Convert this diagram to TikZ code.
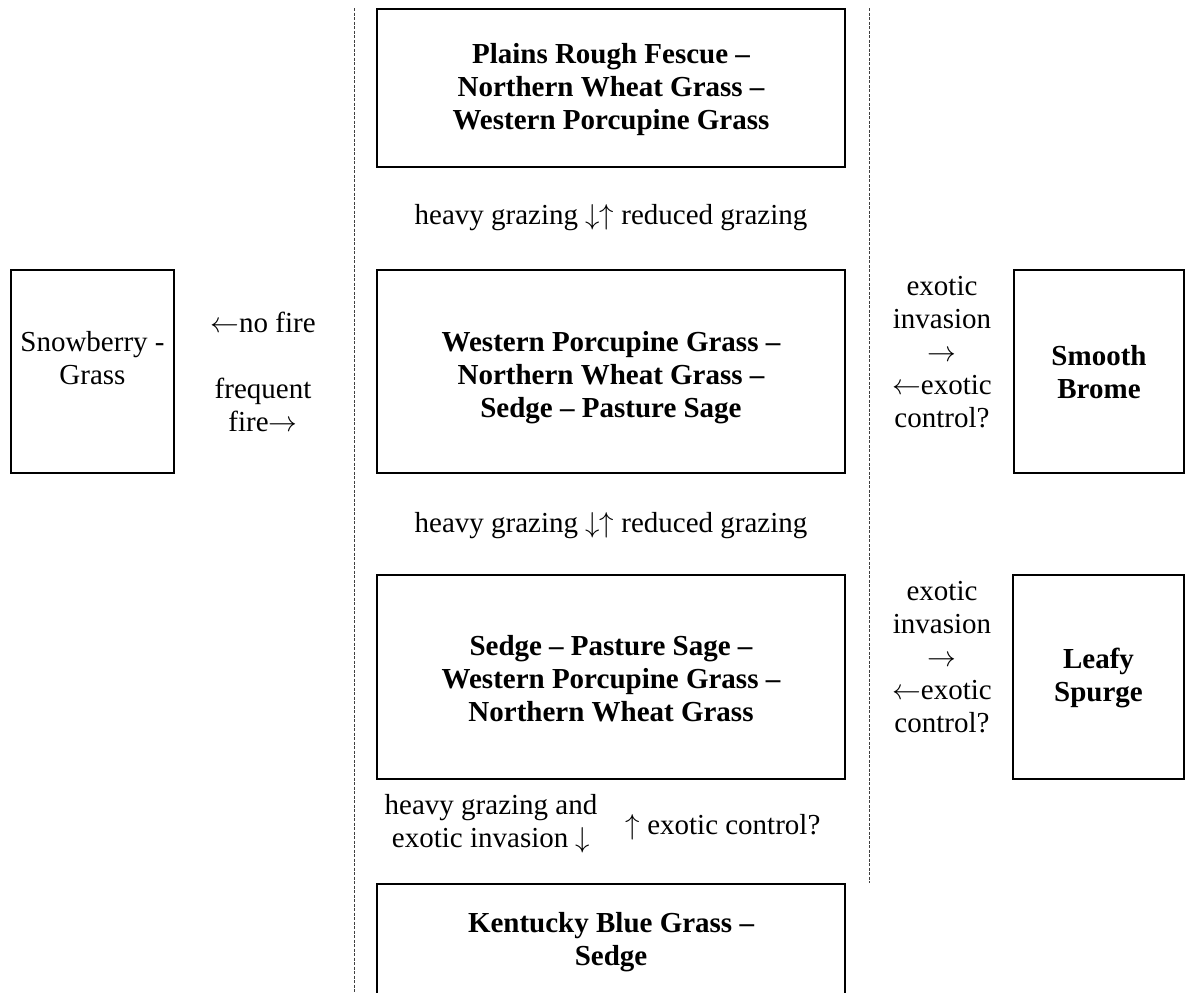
\documentclass[tikz,border=0pt]{standalone}
\usepackage{fontspec}
\setmainfont{Liberation Serif}
\newcommand{\Ra}{$\rightarrow$}
\newcommand{\La}{$\leftarrow$}
\newcommand{\Da}{$\downarrow$}
\newcommand{\Ua}{$\uparrow$}
\begin{document}
\begin{tikzpicture}[x=0.5pt,y=-0.5pt,
  box/.style={draw, line width=1.4pt, inner sep=0pt},
  txt/.style={align=center, inner sep=0pt, font=\fontsize{14.5pt}{16.5pt}\selectfont},
  btxt/.style={align=center, inner sep=0pt, font=\fontsize{14.5pt}{16.5pt}\selectfont\bfseries},
  sepline/.style={line width=0.5pt, black!75, dash pattern=on 1.5pt off 0.75pt}]
\useasboundingbox (0,0) rectangle (1185,992);
\clip (0,0) rectangle (1185,992);

% separators
\coordinate (la) at (354,8);
\coordinate (lb) at (354,992);
\coordinate (ra) at (869,8);
\coordinate (rb) at (869,883);
\draw[sepline] (la) -- (lb);
\draw[sepline] (ra) -- (rb);

% main column boxes
\node[box, minimum width=234pt, minimum height=79pt] (b1) at (611,88) {};
\node[btxt] (t1) at (611,90) {Plains Rough Fescue –\\Northern Wheat Grass –\\Western Porcupine Grass};

\node[box, minimum width=234pt, minimum height=101.5pt] (b2) at (611,371.5) {};
\node[btxt] (t2) at (611,378) {Western Porcupine Grass –\\Northern Wheat Grass –\\Sedge – Pasture Sage};

\node[box, minimum width=234pt, minimum height=102pt] (b3) at (611,677) {};
\node[btxt] (t3) at (611,679) {Sedge – Pasture Sage –\\Western Porcupine Grass –\\Northern Wheat Grass};

\node[box, minimum width=234pt, minimum height=100pt] (b4) at (611,984) {};
\node[btxt] (t4) at (611,942) {Kentucky Blue Grass –\\Sedge};

% side boxes
\node[box, minimum width=81.5pt, minimum height=101.5pt] (sb) at (92.5,371.5) {};
\node[txt] (tsb) at (92.5,358.5) {Snowberry -\\Grass};

\node[box, minimum width=85pt, minimum height=101.5pt] (br) at (1099,371.5) {};
\node[btxt] (tbr) at (1099,372.5) {Smooth\\Brome};

\node[box, minimum width=85.5pt, minimum height=102pt] (ls) at (1098.5,677) {};
\node[btxt] (tls) at (1098.5,677.5) {Leafy\\Spurge};

% transition labels
\node[txt] (g1) at (611,218) {heavy grazing \Da\Ua{} reduced grazing};
\node[txt] (g2) at (611,526) {heavy grazing \Da\Ua{} reduced grazing};
\node[txt] (fire) at (263,372) {\La no fire\\[16.5pt]frequent\\fire\Ra};
\node[txt] (ex1) at (942,352) {exotic\\invasion\\\Ra\\\La exotic\\control?};
\node[txt] (ex2) at (942,657) {exotic\\invasion\\\Ra\\\La exotic\\control?};
\node[txt] (g3) at (491,824) {heavy grazing and\\exotic invasion \Da};
\node[txt] (ec) at (723,827) {\Ua{} exotic control?};
\end{tikzpicture}
\end{document}
